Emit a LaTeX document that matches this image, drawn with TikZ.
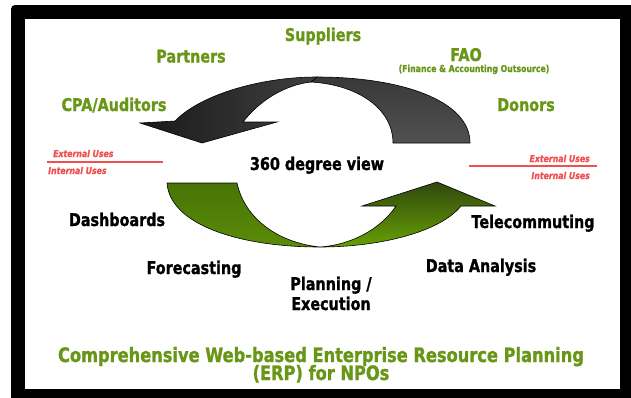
\documentclass[tikz,border=0pt]{standalone}
\usepackage{fontspec}
\setmainfont{DejaVu Sans}[FakeStretch=0.82, BoldFeatures={FakeBold=1.2}, BoldItalicFeatures={FakeBold=0.8}]
\definecolor{lblgreen}{RGB}{104,150,22}
\definecolor{usered}{RGB}{240,80,80}
\definecolor{gdark}{RGB}{48,72,14}
\definecolor{gbright}{RGB}{104,160,4}
\definecolor{golive1}{RGB}{72,116,6}
\definecolor{golive2}{RGB}{90,140,8}
\begin{document}
\begin{tikzpicture}[x=1pt,y=-1pt,
  glab/.style={font=\fontsize{17.5}{20}\selectfont\bfseries, text=lblgreen, inner sep=0pt, anchor=base},
  blab/.style={font=\fontsize{17.5}{20}\selectfont\bfseries, text=black, inner sep=0pt, anchor=base},
  slab/.style={font=\fontsize{9.5}{11}\selectfont\bfseries, text=lblgreen, inner sep=0pt, anchor=base},
  ulab/.style={font=\fontsize{9.5}{11}\selectfont\bfseries\itshape, text=usered, inner sep=0pt},
  tlab/.style={font=\fontsize{19.8}{21}\selectfont\bfseries, text=lblgreen, inner sep=0pt, anchor=base},
  useline/.style={draw=usered, line width=1.6pt},
  arrowline/.style={draw=black, line width=0.6pt}]
\useasboundingbox (0,0) rectangle (631,397);
% frame
\fill[black, rounded corners=4pt] (11,5) rectangle (645,410);
\fill[white] (25,19) rectangle (620,389);
% dark arrow: tail piece
\path[arrowline, top color=black!78, bottom color=black!68]
  (317,77) .. controls (400,77) and (470,100) .. (470,143) -- (393,143)
  .. controls (393,110) and (360,85) .. (311,82) -- cycle;
% dark arrow: head piece
\path[arrowline, left color=black!90, right color=black!75]
  (317,77) .. controls (260,77) and (200,95) .. (175,121) -- (140,123) -- (202,143)
  -- (277,122) -- (243,122) .. controls (260,100) and (285,85) .. (311,82) -- cycle;
% green arrow: tail piece
\path[arrowline, top color=golive1, bottom color=golive2]
  (167,183) .. controls (170,225) and (240,247) .. (320,247)
  .. controls (280,243) and (245,220) .. (237,183) -- cycle;
% green arrow: head piece
\path[arrowline, top color=gdark, bottom color=gbright]
  (320,247) .. controls (380,247) and (440,232) .. (461,206) -- (495,206) -- (437,182)
  -- (362,206) -- (396,206) .. controls (380,230) and (350,245) .. (320,247) -- cycle;
% green labels
\node[glab] (sup) at (323,41) {Suppliers};
\node[glab] (par) at (191,62.5) {Partners};
\node[glab] (fao) at (466,61) {FAO};
\node[slab] (faos) at (474,72) {(Finance \& Accounting Outsource)};
\node[glab] (cpa) at (114,111) {CPA/Auditors};
\node[glab] (don) at (526,111) {Donors};
% uses
\node[ulab, anchor=base west] (ext1) at (53,157) {External Uses};
\node[ulab, anchor=base west] (int1) at (48,174) {Internal Uses};
\node[ulab, anchor=base east] (ext2) at (590,162) {External Uses};
\node[ulab, anchor=base east] (int2) at (590,179) {Internal Uses};
\coordinate (la) at (47,162);
\coordinate (lb) at (163,162);
\coordinate (ra) at (469,166);
\coordinate (rb) at (597,166);
\draw[useline] (la) -- (lb);
\draw[useline] (ra) -- (rb);
% black labels
\node[blab] (view) at (317,170) {360 degree view};
\node[blab] (dash) at (117,226) {Dashboards};
\node[blab] (tele) at (533,228) {Telecommuting};
\node[blab] (fore) at (194,274) {Forecasting};
\node[blab] (data) at (481,272) {Data Analysis};
\node[blab] (plan) at (331,290) {Planning /};
\node[blab] (exec) at (331,310) {Execution};
% title
\node[tlab] (ttl1) at (321,362) {Comprehensive Web-based Enterprise Resource Planning};
\node[tlab] (ttl2) at (321,380) {(ERP) for NPOs};
\end{tikzpicture}
\end{document}
